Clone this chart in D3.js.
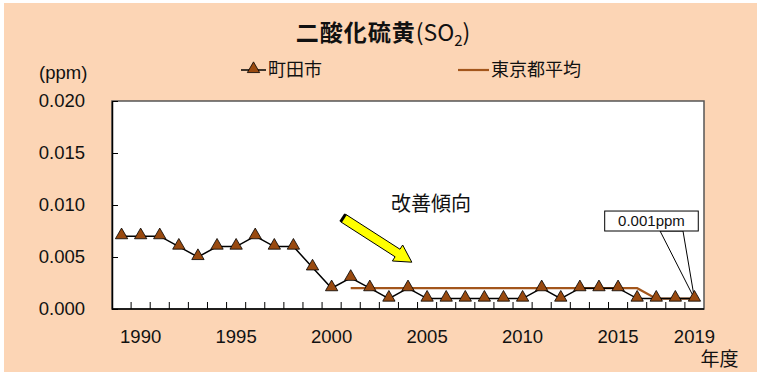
<!DOCTYPE html>
<html><head><meta charset="utf-8">
<script src="https://cdn.jsdelivr.net/npm/d3@7"></script>
<style>
html,body{margin:0;padding:0;background:#fff;}
svg{display:block;}
text{font-family:"Liberation Sans","Noto Sans CJK JP",sans-serif;fill:#111;}
</style></head>
<body>
<svg id="c" width="757" height="372"></svg>
<script>
const years = d3.range(1989, 2020);
const machida = [0.007,0.007,0.007,0.006,0.005,0.006,0.006,0.007,0.006,0.006,0.004,0.002,0.003,0.002,0.001,0.002,
                 0.001,0.001,0.001,0.001,0.001,0.001,0.002,0.001,0.002,0.002,0.002,0.001,0.001,0.001,0.001];
const tokyoYears = d3.range(2001, 2020);
const tokyo = [0.002,0.002,0.002,0.002,0.002,0.002,0.002,0.002,0.002,0.002,0.002,0.002,0.002,0.002,0.002,0.002,0.001,0.001,0.001];
const yTicks = [0, 0.005, 0.010, 0.015, 0.020];
const xTickLabels = [1990, 1995, 2000, 2005, 2010, 2015, 2019];
const seriesNames = ["町田市", "東京都平均"];
const titleMain = "二酸化硫黄";
const annotationText = "0.001ppm";
const trendText = "改善傾向";

const svg = d3.select("#c");
const W = 757, H = 372;
const L = 112, R = 704, T = 101, B = 309;

svg.append("rect").attr("x",0).attr("y",0).attr("width",W).attr("height",H).attr("fill","#fff");
svg.append("rect").attr("x",4).attr("y",3).attr("width",W-4).attr("height",H-3).attr("fill","#FCD5B5");

const x = d3.scaleBand().domain(years).range([L, R]);
const xc = d => x(d) + x.bandwidth()/2;
const xLin = d3.scaleLinear().domain([1988.5, 2019.5]).range([L, R]);
const y = d3.scaleLinear().domain([0, 0.02]).range([B, T]);

// plot area
svg.append("rect").attr("x",L).attr("y",T).attr("width",R-L).attr("height",B-T)
  .attr("fill","#fff").attr("stroke","#555").attr("stroke-width",1.5);

// y axis
const yAxis = d3.axisLeft(y).tickValues(yTicks).tickFormat(d3.format(".3f")).tickSizeInner(-6).tickSizeOuter(0).tickPadding(27);
const gy = svg.append("g").attr("transform",`translate(${L},0)`).call(yAxis);
gy.select(".domain").attr("stroke","#000").attr("stroke-width",1.5);
gy.selectAll(".tick line").attr("stroke","#000");
gy.selectAll("text").style("font-size","18.5px").attr("fill","#1a1a1a")
  .style("font-family",'"Liberation Sans",sans-serif');

// x axis: ticks at category boundaries
const xAxisG = svg.append("g");
xAxisG.append("line").attr("x1",L).attr("x2",R).attr("y1",B).attr("y2",B).attr("stroke","#000").attr("stroke-width",1.5);
xAxisG.selectAll("line.tk").data(years.slice(1)).enter().append("line").attr("class","tk")
  .attr("x1",d=>x(d)).attr("x2",d=>x(d)).attr("y1",B).attr("y2",B-7).attr("stroke","#000");
xAxisG.selectAll("text").data(xTickLabels).enter().append("text")
  .attr("x",d=>xc(d)).attr("y",B+34).attr("text-anchor","middle").attr("fill","#1a1a1a")
  .style("font-size","18.5px").text(d=>d);
svg.append("text").attr("x",xc(2019)+25).attr("y",B+57).attr("text-anchor","middle")
  .style("font-size","19px").style("font-family",'"Noto Sans CJK JP",sans-serif').text("年度");

// unit
svg.append("text").attr("x",39).attr("y",79).style("font-size","18.5px").attr("fill","#1a1a1a").text("(ppm)");

// title
const tt = svg.append("text").attr("x",383).attr("y",41).attr("text-anchor","middle");
tt.append("tspan").style("font-family",'"Noto Sans CJK JP",sans-serif').style("font-weight","bold")
  .style("font-size","23px").style("letter-spacing","1px").text(titleMain);
tt.append("tspan").style("font-size","23px").style("font-family",'"Noto Sans CJK JP",sans-serif').text("(SO");
tt.append("tspan").style("font-size","15px").attr("dy",5).style("font-family",'"Noto Sans CJK JP",sans-serif').text("2");
tt.append("tspan").style("font-size","23px").attr("dy",-5).style("font-family",'"Noto Sans CJK JP",sans-serif').text(")");

const brown = "#A3561C";
const triFill = "#994A10";
const tri = d3.symbol().type(d3.symbolTriangle).size(66);

// legend
const lg = svg.append("g");
lg.append("line").attr("x1",241).attr("x2",266).attr("y1",70).attr("y2",70).attr("stroke","#000").attr("stroke-width",1.5);
lg.append("path").attr("d",tri).attr("transform","translate(253.5,69)").attr("fill",triFill).attr("stroke","#000").attr("stroke-width",0.8);
lg.append("text").attr("x",268).attr("y",76).style("font-size","18px").style("font-family",'"Noto Sans CJK JP",sans-serif').text(seriesNames[0]);
lg.append("line").attr("x1",458).attr("x2",489).attr("y1",70).attr("y2",70).attr("stroke",brown).attr("stroke-width",2.2);
lg.append("text").attr("x",491).attr("y",76).style("font-size","18px").style("font-family",'"Noto Sans CJK JP",sans-serif').text(seriesNames[1]);

// Tokyo line
const tokyoData = tokyoYears.map((yr,i)=>({yr, v:tokyo[i]}));
svg.append("path").datum(tokyoData)
  .attr("d", d3.line().x(d=>xc(d.yr)).y(d=>y(d.v)))
  .attr("fill","none").attr("stroke",brown).attr("stroke-width",2.2);

// Machida line
const mData = years.map((yr,i)=>({yr, v:machida[i]}));
svg.append("path").datum(mData)
  .attr("d", d3.line().x(d=>xc(d.yr)).y(d=>y(d.v)))
  .attr("fill","none").attr("stroke","#000").attr("stroke-width",1.5);

// callout for 2019
const px = xc(2019), py = y(machida[machida.length-1]);
svg.append("path")
  .attr("d", `M${xLin(2017.2)},${y(0.0075)} L${px},${py} L${xLin(2018.4)},${y(0.0075)} Z`)
  .attr("fill","#fff").attr("stroke","#000").attr("stroke-width",1);
svg.append("rect").attr("x",xLin(2014.3)).attr("y",y(0.00942)).attr("width",xLin(2019.2)-xLin(2014.3)).attr("height",y(0.0075)-y(0.00942))
  .attr("fill","#fff").attr("stroke","#000").attr("stroke-width",1);
svg.append("text").attr("x",(xLin(2014.3)+xLin(2019.2))/2).attr("y",y(0.00846)+5).attr("text-anchor","middle")
  .style("font-size","15px").text(annotationText);

// markers
svg.selectAll("path.m").data(mData).enter().append("path").attr("class","m")
  .attr("d",tri).attr("transform",d=>`translate(${xc(d.yr)},${y(d.v)-1})`)
  .attr("fill",triFill).attr("stroke","#000").attr("stroke-width",0.8);

// trend arrow
(function(){
  const x0 = xLin(2000.6), y0 = y(0.00875), x1 = xLin(2004.2), y1 = y(0.0045);
  const dx = x1-x0, dy = y1-y0, len = Math.hypot(dx,dy);
  const ux = dx/len, uy = dy/len, nx = -uy, ny = ux;
  const sw = 4.5, hw = 9.5, hl = 17;
  const P = (a,b)=>[x0+ux*a+nx*b, y0+uy*a+ny*b];
  const pts = [P(0,-sw),P(len-hl,-sw),P(len-hl,-hw),P(len,0),P(len-hl,hw),P(len-hl,sw),P(0,sw)];
  svg.append("polygon").attr("points",pts.map(p=>p.join(",")).join(" "))
    .attr("fill","#FFFF00").attr("stroke","#000").attr("stroke-width",1);
  const a = P(0,-sw), b = P(0,sw);
  svg.append("line").attr("x1",a[0]).attr("y1",a[1]).attr("x2",b[0]).attr("y2",b[1]).attr("stroke","#000").attr("stroke-width",3);
})();
svg.append("text").attr("x",xLin(2005.2)).attr("y",y(0.0094)).attr("text-anchor","middle")
  .style("font-size","20px").style("font-family",'"Noto Sans CJK JP",sans-serif').text(trendText);
</script>
</body></html>
